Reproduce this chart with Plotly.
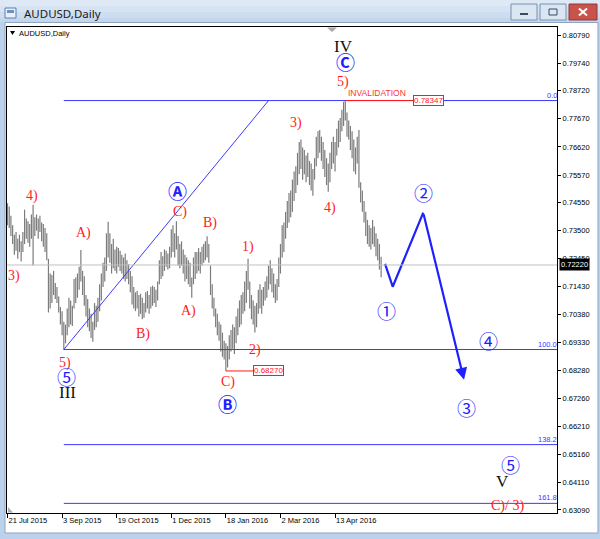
import plotly.graph_objects as go

# ---------------- data ----------------
bar_low = [
    0.7370, 0.7360, 0.7330, 0.7300, 0.7260, 0.7275, 0.7245, 0.7270, 0.7235, 0.7270,
    0.7300, 0.7320, 0.7305, 0.7290, 0.7320, 0.7220, 0.7330, 0.7350, 0.7320, 0.7345,
    0.7310, 0.7290, 0.7270, 0.7240, 0.7045, 0.7060, 0.7080, 0.7110, 0.7095, 0.7080,
    0.7045, 0.7000, 0.6960, 0.6907, 0.6930, 0.6960, 0.6990, 0.7000, 0.6995, 0.7060,
    0.7080, 0.7100, 0.7130, 0.7160, 0.7110, 0.7070, 0.7030, 0.6990, 0.6975, 0.6950,
    0.6936, 0.6980, 0.6990, 0.7010, 0.7050, 0.7090, 0.7140, 0.7160, 0.7200, 0.7250,
    0.7230, 0.7190, 0.7210, 0.7200, 0.7190, 0.7215, 0.7200, 0.7190, 0.7170, 0.7160,
    0.7170, 0.7150, 0.7120, 0.7075, 0.7060, 0.7050, 0.7060, 0.7030, 0.7040, 0.7020,
    0.7025, 0.7045, 0.7060, 0.7040, 0.7060, 0.7070, 0.7080, 0.7065, 0.7090, 0.7150,
    0.7170, 0.7180, 0.7200, 0.7215, 0.7205, 0.7210, 0.7250, 0.7270, 0.7250, 0.7280,
    0.7220, 0.7210, 0.7220, 0.7190, 0.7160, 0.7170, 0.7150, 0.7140, 0.7100, 0.7150,
    0.7170, 0.7190, 0.7200, 0.7190, 0.7220, 0.7230, 0.7240, 0.7250, 0.7230, 0.7110,
    0.7060, 0.7030, 0.6990, 0.6960, 0.6940, 0.6900, 0.6880, 0.6870, 0.6827, 0.6840,
    0.6870, 0.6900, 0.6910, 0.6890, 0.6930, 0.6960, 0.6990, 0.7000, 0.7040, 0.7050,
    0.7080, 0.7130, 0.7060, 0.7020, 0.7000, 0.6970, 0.6990, 0.7040, 0.7060, 0.7040,
    0.7070, 0.7090, 0.7100, 0.7130, 0.7150, 0.7120, 0.7100, 0.7080, 0.7090, 0.7140,
    0.7190, 0.7250, 0.7270, 0.7320, 0.7360, 0.7380, 0.7400, 0.7420, 0.7460, 0.7490,
    0.7520, 0.7560, 0.7580, 0.7540, 0.7560, 0.7530, 0.7550, 0.7520, 0.7500, 0.7480,
    0.7540, 0.7590, 0.7620, 0.7640, 0.7610, 0.7580, 0.7550, 0.7520, 0.7495, 0.7530,
    0.7580, 0.7600, 0.7570, 0.7630, 0.7660, 0.7680, 0.7720, 0.7740, 0.7760, 0.7700,
    0.7690, 0.7650, 0.7620, 0.7570, 0.7560, 0.7600, 0.7510, 0.7455, 0.7420, 0.7380,
    0.7330, 0.7300, 0.7290, 0.7280, 0.7300, 0.7290, 0.7255, 0.7240, 0.7205, 0.7176,
]
bar_high = [
    0.7452, 0.7440, 0.7405, 0.7370, 0.7335, 0.7345, 0.7320, 0.7335, 0.7310, 0.7345,
    0.7428, 0.7395, 0.7385, 0.7375, 0.7410, 0.7446, 0.7400, 0.7410, 0.7395, 0.7405,
    0.7380, 0.7375, 0.7360, 0.7340, 0.7245, 0.7190, 0.7185, 0.7200, 0.7155, 0.7140,
    0.7105, 0.7065, 0.7050, 0.7010, 0.7000, 0.7060, 0.7100, 0.7090, 0.7070, 0.7170,
    0.7175, 0.7190, 0.7215, 0.7278, 0.7200, 0.7180, 0.7110, 0.7095, 0.7060, 0.7040,
    0.7010, 0.7080, 0.7070, 0.7100, 0.7150, 0.7190, 0.7230, 0.7250, 0.7340, 0.7383,
    0.7340, 0.7300, 0.7320, 0.7280, 0.7290, 0.7285, 0.7275, 0.7260, 0.7250, 0.7265,
    0.7240, 0.7225, 0.7200, 0.7180, 0.7140, 0.7120, 0.7125, 0.7110, 0.7115, 0.7100,
    0.7080, 0.7120, 0.7125, 0.7110, 0.7140, 0.7145, 0.7140, 0.7130, 0.7160, 0.7240,
    0.7270, 0.7255, 0.7280, 0.7275, 0.7265, 0.7290, 0.7355, 0.7370, 0.7340, 0.7385,
    0.7330, 0.7300, 0.7310, 0.7280, 0.7260, 0.7250, 0.7240, 0.7230, 0.7175, 0.7250,
    0.7270, 0.7270, 0.7285, 0.7270, 0.7290, 0.7300, 0.7310, 0.7329, 0.7300, 0.7220,
    0.7150, 0.7100, 0.7060, 0.7040, 0.7010, 0.7000, 0.6970, 0.6940, 0.6930, 0.6920,
    0.6960, 0.6980, 0.7000, 0.6990, 0.7030, 0.7060, 0.7090, 0.7110, 0.7120, 0.7160,
    0.7200, 0.7245, 0.7160, 0.7110, 0.7090, 0.7070, 0.7080, 0.7130, 0.7150, 0.7130,
    0.7140, 0.7160, 0.7180, 0.7220, 0.7240, 0.7210, 0.7190, 0.7150, 0.7170, 0.7250,
    0.7300, 0.7370, 0.7380, 0.7420, 0.7460, 0.7490, 0.7500, 0.7540, 0.7570, 0.7590,
    0.7640, 0.7680, 0.7690, 0.7660, 0.7650, 0.7630, 0.7640, 0.7610, 0.7600, 0.7580,
    0.7620, 0.7700, 0.7720, 0.7725, 0.7700, 0.7680, 0.7650, 0.7620, 0.7600, 0.7640,
    0.7680, 0.7700, 0.7680, 0.7730, 0.7760, 0.7770, 0.7800, 0.7830, 0.78347, 0.7790,
    0.7760, 0.7740, 0.7720, 0.7690, 0.7660, 0.7700, 0.7725, 0.7530, 0.7500, 0.7460,
    0.7420, 0.7390, 0.7370, 0.7360, 0.7390, 0.7365, 0.7340, 0.7320, 0.7300, 0.7253,
]
date_tick_index = [0, 32, 64, 96, 128, 160, 192]
date_tick_text = ["21 Jul 2015", "3 Sep 2015", "19 Oct 2015", "1 Dec 2015",
                  "18 Jan 2016", "2 Mar 2016", "13 Apr 2016"]
price_ticks = [0.80790, 0.79740, 0.78720, 0.77670, 0.76620, 0.75570, 0.74550,
               0.73500, 0.72450, 0.71430, 0.70380, 0.69330, 0.68280, 0.67260,
               0.66210, 0.65160, 0.64110, 0.63090]
last_price = 0.72220

fib_start_index = 33
fib_zero_price = 0.78347
fib_100_price = 0.6907
fib_levels = [0.0, 100.0, 138.2, 161.8]
diag_index = [33, 153]
diag_price = [0.6907, 0.78347]

low_b_index, low_b_price = 128, 0.68270
peak_index, peak_price = 198, 0.78347

proj_index = [221.3, 225.8, 243.7, 267.6]
proj_price = [0.7226, 0.7141, 0.7417, 0.6794]

# wave labels: text, bar index, price, style
wave_labels = [
    ("IV", 197.2, 0.80343, "roman"),
    ("Ⓒ", 198.4, 0.79784, "circ_letter"),
    ("5)", 196.7, 0.79039, "red"),
    ("3)", 169.1, 0.77511, "red"),
    ("4)", 189.0, 0.74344, "red"),
    ("②", 243.6, 0.74903, "circ"),
    ("①", 222.4, 0.70506, "circ"),
    ("④", 282.2, 0.69388, "circ"),
    ("③", 268.8, 0.66892, "circ"),
    ("⑤", 295.1, 0.64768, "circ"),
    ("V", 289.9, 0.64135, "roman"),
    ("C)/ 3)", 292.8, 0.63240, "red"),
    ("Ⓐ", 99.4, 0.74977, "circ_letter"),
    ("C)", 101.1, 0.74195, "red"),
    ("B)", 118.7, 0.73785, "red"),
    ("A)", 44.8, 0.73412, "red"),
    ("4)", 14.4, 0.74791, "red"),
    ("3)", 3.8, 0.71810, "red"),
    ("B)", 79.4, 0.69649, "red"),
    ("A)", 105.8, 0.70506, "red"),
    ("1)", 141.0, 0.72891, "red"),
    ("2)", 145.1, 0.69053, "red"),
    ("C)", 129.3, 0.67861, "red"),
    ("Ⓑ", 128.7, 0.67041, "circ_letter"),
    ("5)", 33.7, 0.68568, "red"),
    ("⑤", 34.3, 0.68047, "circ"),
    ("III", 34.9, 0.67451, "roman"),
]

# ---------------- geometry / style ----------------
W, H = 600, 539
ML, MR, MT, MB = 7, 43, 27, 26
PW, PH = W - ML - MR, H - MT - MB
X_RANGE = [-0.3, 322.1]
Y_RANGE = [0.62978, 0.81088]
BAR_COLOR = "#7c7c7c"
BLUE = "#2020ff"
FIB_BLUE = "#3a3aff"
RED = "#ff1a1a"
SANS = "Liberation Sans, Arial, sans-serif"
SERIF = "Liberation Serif, Times New Roman, serif"
CJK = "Noto Sans CJK JP, Noto Sans CJK SC, sans-serif"


def px(x):
    return (x - ML) / PW


def py(y):
    return (MT + PH - y) / PH


fig = go.Figure()

# price bars (high-low verticals)
bx, by = [], []
for i, (lo, hi) in enumerate(zip(bar_low, bar_high)):
    bx += [i, i, None]
    by += [lo, hi, None]
fig.add_trace(go.Scatter(x=bx, y=by, mode="lines",
                         line=dict(color=BAR_COLOR, width=1.2),
                         hoverinfo="skip", showlegend=False))

# fib extension diagonal
fig.add_trace(go.Scatter(x=diag_index, y=diag_price, mode="lines",
                         line=dict(color=FIB_BLUE, width=1),
                         hoverinfo="skip", showlegend=False))

# projected path
fig.add_trace(go.Scatter(x=proj_index[:3], y=proj_price[:3], mode="lines",
                         line=dict(color=BLUE, width=2.2),
                         hoverinfo="skip", showlegend=False))

shapes = []
annotations = []

# current price line
shapes.append(dict(type="line", xref="x", yref="y", x0=X_RANGE[0], x1=X_RANGE[1],
                   y0=last_price, y1=last_price, line=dict(color="#c0c0c0", width=1)))

# fib levels
for lvl in fib_levels:
    p = fib_zero_price - lvl / 100.0 * (fib_zero_price - fib_100_price)
    shapes.append(dict(type="line", xref="x", yref="y", x0=fib_start_index, x1=X_RANGE[1],
                       y0=p, y1=p, line=dict(color=FIB_BLUE, width=1)))
    annotations.append(dict(xref="paper", yref="y", x=1.003, y=p, text=f"{lvl:.1f}",
                            xanchor="right", yanchor="bottom", showarrow=False,
                            font=dict(family=SANS, size=7.5, color=FIB_BLUE), yshift=-1))

# B low marker
b_box_index = 143.9
shapes.append(dict(type="line", xref="x", yref="y", x0=low_b_index, x1=b_box_index,
                   y0=low_b_price, y1=low_b_price, line=dict(color=RED, width=1)))
annotations.append(dict(xref="x", yref="y", x=b_box_index, y=low_b_price,
                        text=f"{low_b_price:.5f}", xanchor="left", yanchor="middle",
                        showarrow=False, bgcolor="white", bordercolor=RED, borderwidth=1,
                        borderpad=0, font=dict(family=SANS, size=8, color=RED)))

# invalidation
peak_box_index = 237.5
shapes.append(dict(type="line", xref="x", yref="y", x0=peak_index, x1=peak_box_index,
                   y0=peak_price, y1=peak_price, line=dict(color=RED, width=1)))
annotations.append(dict(xref="x", yref="y", x=peak_box_index, y=peak_price,
                        text=f"{peak_price:.5f}", xanchor="left", yanchor="middle",
                        showarrow=False, bgcolor="white", bordercolor=RED, borderwidth=1,
                        borderpad=0, font=dict(family=SANS, size=8, color=RED)))
annotations.append(dict(xref="x", yref="y", x=peak_index + 0.4, y=peak_price, yshift=8,
                        text="INVALIDATION", xanchor="left", yanchor="middle",
                        showarrow=False, font=dict(family=SANS, size=8.5, color="#ff3030")))

# projection arrow (last leg)
annotations.append(dict(xref="x", yref="y", axref="x", ayref="y",
                        x=proj_index[3], y=proj_price[3], ax=proj_index[2], ay=proj_price[2],
                        text="", showarrow=True, arrowhead=2, arrowsize=1.1,
                        arrowwidth=2.2, arrowcolor=BLUE))

# wave labels
styles = {
    "red": dict(family=SERIF, size=14, color=RED),
    "roman": dict(family=SERIF, size=17, color="#111111"),
    "circ": dict(family=CJK, size=19, color=BLUE),
    "circ_letter": dict(family=CJK, size=19, color=BLUE),
}
for text, xi, pr, st in wave_labels:
    t = f"<b>{text}</b>" if st == "circ_letter" else text
    annotations.append(dict(xref="x", yref="y", x=xi, y=pr, text=t, showarrow=False,
                            xanchor="center", yanchor="middle", font=styles[st]))

# current price box on the axis
annotations.append(dict(xref="paper", yref="y", x=px(559), y=last_price,
                        text=f"{last_price:.5f}", xanchor="left", yanchor="middle",
                        showarrow=False, bgcolor="#000000", borderpad=1,
                        font=dict(family=SANS, size=7.5, color="white")))

# ---------------- window chrome ----------------
def rect(x0, y0, x1, y1, fill, line=None, lw=1, layer="below"):
    shapes.append(dict(type="rect", xref="paper", yref="paper",
                       x0=px(x0), x1=px(x1), y0=py(y1), y1=py(y0),
                       fillcolor=fill, line=dict(color=line or fill, width=lw if line else 0),
                       layer=layer))


title_stripes = ["#dfe9f6", "#d6e3f3", "#cddcef", "#c4d6ec"]
for k, c in enumerate(title_stripes):
    rect(0, k * 6, 600, k * 6 + 6, c)
rect(0, 22.5, 600, 539, "#bcd2ec")
rect(5, 22.5, 598, 533, "#ffffff", line="#8ea4c0")

# title icon
rect(5, 8, 16, 18, "#e9f0f8", line="#5a7fb0")
rect(7, 10, 14, 13, "#6b90c2")
annotations.append(dict(xref="paper", yref="paper", x=px(21.5), y=py(13.5),
                        text="AUDUSD,Daily", xanchor="left", yanchor="middle", showarrow=False,
                        font=dict(family="Noto Sans, DejaVu Sans, sans-serif", size=11.5,
                                  color="#1b1b1b")))
# window buttons
rect(511, 4, 537, 20, "#dbe6f3", line="#7890b0", layer="above")
rect(520, 13, 528, 15, "#3a4a60", layer="above")
rect(540, 4, 566, 20, "#dbe6f3", line="#7890b0", layer="above")
rect(549, 9, 557, 15, "#dbe6f3", line="#3a4a60", layer="above")
rect(569, 4, 597, 20, "#c9524a", line="#8a3a34", layer="above")
shapes.append(dict(type="line", xref="paper", yref="paper", x0=px(579), x1=px(587),
                   y0=py(8.5), y1=py(15.5), line=dict(color="white", width=2)))
shapes.append(dict(type="line", xref="paper", yref="paper", x0=px(579), x1=px(587),
                   y0=py(15.5), y1=py(8.5), line=dict(color="white", width=2)))

# in-chart header and markers
shapes.append(dict(type="path", xref="paper", yref="paper",
                   path=f"M {px(10)},{py(31)} L {px(15)},{py(31)} L {px(12.5)},{py(35)} Z",
                   fillcolor="#000000", line=dict(width=0)))
annotations.append(dict(xref="paper", yref="paper", x=px(17), y=py(33),
                        text="AUDUSD,Daily", xanchor="left", yanchor="middle", showarrow=False,
                        font=dict(family=SANS, size=7.5, color="#000000")))
shapes.append(dict(type="path", xref="paper", yref="paper",
                   path=f"M {px(327)},{py(27.5)} L {px(337)},{py(27.5)} L {px(332)},{py(32)} Z",
                   fillcolor="#a8a8a8", line=dict(width=0)))
shapes.append(dict(type="path", xref="paper", yref="paper",
                   path=f"M {px(8)},{py(507)} L {px(8)},{py(512.5)} L {px(13)},{py(512.5)} Z",
                   fillcolor="#b0b0b0", line=dict(width=0)))

fig.update_layout(
    width=W, height=H,
    margin=dict(l=ML, r=MR, t=MT, b=MB, pad=0),
    paper_bgcolor="#bcd2ec",
    plot_bgcolor="#ffffff",
    showlegend=False,
    shapes=shapes,
    annotations=annotations,
    xaxis=dict(range=X_RANGE, tickmode="array", tickvals=date_tick_index,
               ticktext=date_tick_text, ticks="outside", ticklen=4, tickcolor="#000000",
               ticklabelposition="outside right",
               showline=True, linecolor="#000000", linewidth=1, mirror=True,
               showgrid=False, zeroline=False,
               tickfont=dict(family=SANS, size=7.5, color="#000000")),
    yaxis=dict(range=Y_RANGE, side="right", tickmode="array", tickvals=price_ticks,
               ticktext=[f"{v:.5f}" for v in price_ticks], ticks="outside", ticklen=3,
               tickcolor="#000000", showline=True, linecolor="#000000", linewidth=1,
               mirror=True, showgrid=False, zeroline=False,
               tickfont=dict(family=SANS, size=7.5, color="#000000")),
)

fig.write_html("out.html", config={"displayModeBar": False},
               post_script="document.body.style.margin='0';document.body.style.overflow='hidden';")
